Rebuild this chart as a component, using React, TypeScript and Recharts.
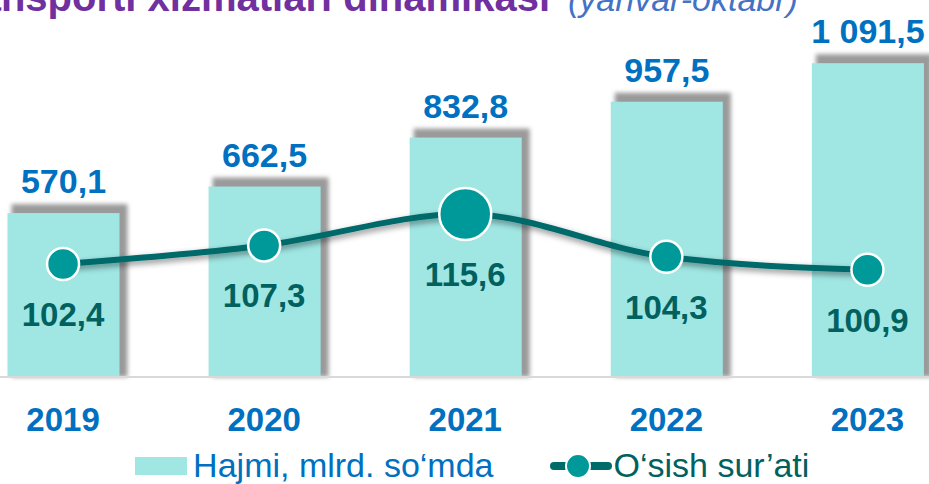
import React from 'react';
import { ComposedChart, Bar, Line, XAxis, YAxis, Legend, LabelList } from 'recharts';

const years = ['2019', '2020', '2021', '2022', '2023'];
const volume = [570.1, 662.5, 832.8, 957.5, 1091.5]; // mlrd. so'm
const growth = [102.4, 107.3, 115.6, 104.3, 100.9]; // %

const data = years.map((year, i) => ({ year, volume: volume[i], growth: growth[i] }));
const maxGrowth = Math.max(...growth);

const FONT = '"Liberation Sans", Arial, sans-serif';
const BLUE = '#0070C0';
const CYAN = '#A0E7E4';
const TEAL_LINE = '#006B6B';
const TEAL_DOT = '#009999';
const TEAL_TEXT = '#00615F';

// 1 091,5 style
const fmt = (v: number) => {
  const [int, dec] = v.toFixed(1).split('.');
  return int.replace(/\B(?=(\d{3})+(?!\d))/g, ' ') + ',' + dec;
};

const dotRadius = (v: number) => (v === maxGrowth ? 26 : 16);

const BarShape = (props: any) => {
  const { x, y, width, height } = props;
  return (
    <g>
      <rect x={x + 4} y={y - 9} width={width + 4} height={height + 9} fill="#9a9a9a" filter="url(#barBlur)" />
      <rect x={x} y={y} width={width} height={height} fill={CYAN} />
    </g>
  );
};

const renderDot = (props: any) => {
  const { cx, cy, value, index } = props;
  return (
    <circle key={'dot-' + index} cx={cx} cy={cy} r={dotRadius(value)} fill={TEAL_DOT} stroke="#fff" strokeWidth={2.5} />
  );
};

const renderBarLabel = (props: any) => {
  const { x, y, width, value } = props;
  return (
    <text x={x + width / 2} y={y - 20} textAnchor="middle" fill={BLUE} fontFamily={FONT} fontWeight="bold" fontSize={34}>
      {fmt(value)}
    </text>
  );
};

const renderLineLabel = (props: any) => {
  const { x, y, value } = props;
  return (
    <text x={x} y={y + dotRadius(value) + 46} textAnchor="middle" fill={TEAL_TEXT} fontFamily={FONT} fontWeight="bold" fontSize={33}>
      {fmt(value)}
    </text>
  );
};

const YearTick = (props: any) => {
  const { x, y, payload } = props;
  return (
    <text x={x} y={y} dy={52} textAnchor="middle" fill={BLUE} fontFamily={FONT} fontWeight="bold" fontSize={33}>
      {payload.value}
    </text>
  );
};

const renderLegend = () => (
  <div
    style={{
      height: 47,
      boxSizing: 'border-box',
      paddingTop: 10,
      paddingLeft: 14,
      display: 'flex',
      justifyContent: 'center',
      alignItems: 'center',
      fontFamily: FONT,
      fontSize: 34,
    }}
  >
    <span style={{ display: 'inline-block', width: 52, height: 18, background: CYAN, marginRight: 6 }} />
    <span style={{ color: BLUE }}>Hajmi, mlrd. so‘mda</span>
    <svg width={62} height={28} style={{ marginLeft: 56, marginRight: 2 }}>
      <line x1={4} y1={14} x2={58} y2={14} stroke={TEAL_LINE} strokeWidth={8} strokeLinecap="round" />
      <circle cx={28} cy={14} r={12} fill={TEAL_DOT} stroke="#fff" strokeWidth={2} />
    </svg>
    <span style={{ color: TEAL_TEXT }}>O‘sish sur’ati</span>
  </div>
);

export default function App() {
  return (
    <div style={{ position: 'absolute', left: 0, top: 0, width: 929, height: 484, overflow: 'hidden', background: '#fff' }}>
      <svg width={929} height={40} style={{ position: 'absolute', left: 0, top: 0 }}>
        <text x={550} y={11} textAnchor="end" fill="#7030A0" fontFamily={FONT} fontWeight="bold" fontSize={40}>
          Transporti xizmatlari dinamikasi
        </text>
        <text x={568} y={11} fill="#4472C4" fontFamily={FONT} fontStyle="italic" fontSize={34}>
          (yanvar-oktabr)
        </text>
      </svg>
      <div style={{ position: 'absolute', left: -60, top: 0 }}>
        <ComposedChart width={1048} height={484} data={data} margin={{ top: 32, right: 20, bottom: 0, left: 22.5 }}>
          <defs>
            <filter id="barBlur" x="-10%" y="-10%" width="120%" height="120%">
              <feGaussianBlur stdDeviation="2" />
            </filter>
            <filter id="lineShadow" x="-10%" y="-50%" width="120%" height="200%">
              <feDropShadow dx="1" dy="3" stdDeviation="3" floodColor="#000" floodOpacity="0.45" />
            </filter>
          </defs>
          <XAxis
            dataKey="year"
            height={60}
            tick={<YearTick />}
            tickLine={false}
            tickSize={0}
            axisLine={{ stroke: '#D9D9D9', strokeWidth: 2 }}
            interval={0}
          />
          <YAxis yAxisId="v" domain={[0, 1200]} hide />
          <YAxis yAxisId="g" orientation="right" domain={[72.6, 163.6]} hide />
          <Legend verticalAlign="bottom" height={47} content={renderLegend} />
          <Bar yAxisId="v" dataKey="volume" barSize={112} shape={<BarShape />} isAnimationActive={false}>
            <LabelList dataKey="volume" content={renderBarLabel} />
          </Bar>
          <Line
            yAxisId="g"
            dataKey="growth"
            type="monotone"
            stroke={TEAL_LINE}
            strokeWidth={6}
            filter="url(#lineShadow)"
            dot={renderDot}
            activeDot={false}
            isAnimationActive={false}
          >
            <LabelList dataKey="growth" content={renderLineLabel} />
          </Line>
        </ComposedChart>
      </div>
    </div>
  );
}
